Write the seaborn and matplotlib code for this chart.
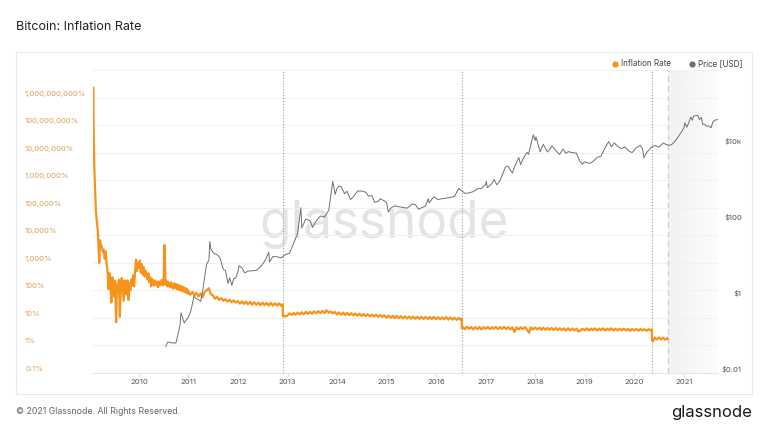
import numpy as np
import pandas as pd
import matplotlib
matplotlib.use("Agg")
import matplotlib.pyplot as plt
import matplotlib.dates as mdates
import matplotlib.transforms as mtransforms
from matplotlib.lines import Line2D
from matplotlib.patches import Rectangle
import seaborn as sns

# ---------------- data ----------------
# Inflation rate (%), very early days (explicit dates)
infl_early_dates = ["2009-01-30", "2009-02-01", "2009-02-04", "2009-02-06", "2009-02-11",
                    "2009-02-19", "2009-02-26", "2009-03-05", "2009-03-15", "2009-03-20"]
infl_early_vals = [2.3e9, 1.0e8, 1.3e7, 3.6e6, 6.8e5, 6.5e4, 3.0e4, 1.3e4, 1000, 6600]

# weekly readings from 2009-03-27 to 2010-12-31
infl_weekly_start = "2009-03-27"
infl_weekly_vals = [4500, 3800, 2500, 3000, 1400, 2600, 1000, 500, 110, 420, 250, 36, 300, 180,
                    60, 220, 7, 160, 90, 240, 11, 190, 280, 110, 42, 230, 150, 70, 230, 45,
                    180, 100, 250, 150, 350, 140, 500, 1300, 500, 1000,
                    650, 1200, 450, 900, 380, 700, 320, 520, 350, 250, 420, 200, 300, 140,
                    260, 180, 150, 230, 160, 200, 130, 210, 150, 190, 240, 150, 200, 4400,
                    160, 220, 140, 200, 150, 130, 195, 140, 115, 180, 125, 170, 110, 160,
                    105, 150, 100, 140, 92, 130, 88, 120, 80, 110, 75]

# semi-monthly readings (1st & 15th)
infl_2011_start = "2011-01-01"
infl_2011_vals = [95, 70, 88, 64, 82, 60, 78, 56, 88, 100, 120, 72, 66, 50, 58, 45, 52, 42, 48, 39, 46, 37, 43, 36,
                  41, 33, 40, 32, 39, 31, 38, 30, 37, 30, 36, 29, 36, 29, 35, 28, 35, 28, 34, 28, 34, 27]
halving1_dates = ["2012-11-27", "2012-11-28"]
halving1_vals = [31, 11.5]

infl_2013_start = "2012-12-01"
infl_2013_vals = [12.8, 11.2,
                  12.2, 14.6, 12.8, 15.0, 13.0, 15.6, 13.4, 16.0, 13.6, 16.4, 14.0, 16.6,
                  14.2, 17.2, 14.6, 17.6, 14.8, 18.0, 15.0, 19.0, 15.2, 17.0, 14.6, 16.4,
                  13.2, 15.8, 13.0, 15.6, 12.8, 15.2, 12.6, 14.8, 12.4, 14.4, 12.0, 14.2,
                  11.8, 13.8, 11.6, 13.6, 11.4, 13.2, 11.2, 13.0, 11.0, 12.6, 10.8, 12.4,
                  10.2, 12.2, 10.0, 12.0, 9.8, 11.8, 9.7, 11.6, 9.6, 11.4, 9.5, 11.2,
                  9.4, 11.2, 9.3, 11.0, 9.2, 11.0, 9.1, 10.9, 9.1, 10.8, 9.0, 10.9,
                  8.9, 10.6, 8.8, 10.5, 8.9, 10.7, 8.7, 10.3, 8.6, 10.2, 8.5, 10.0, 8.6]
halving2_dates = ["2016-07-08", "2016-07-09"]
halving2_vals = [9.4, 4.2]

infl_2017_start = "2016-07-15"
infl_2017_vals = [4.7, 3.9, 4.8, 4.0, 4.7, 3.8, 4.6, 3.9, 4.7, 3.8, 4.6,
                  4.0, 4.7, 3.9, 4.6, 4.0, 4.7, 3.9, 4.6, 4.0, 4.7, 3.9, 4.6,
                  3.8, 4.5, 3.1, 4.5, 3.8, 4.6, 3.9, 4.6, 3.8, 2.9, 4.5, 3.8,
                  4.5, 3.8, 4.4, 3.7, 4.4, 3.7, 4.3, 3.7, 4.3, 3.6, 4.3, 3.6,
                  4.2, 3.6, 4.2, 3.5, 4.2, 3.5, 4.1, 3.5, 4.1, 3.2, 3.5, 4.0,
                  3.6, 4.2, 3.5, 4.1, 3.6, 4.2, 3.5, 4.1, 3.6, 4.2, 3.5, 4.1,
                  3.6, 4.2, 3.5, 4.1, 3.5, 4.1, 3.5, 4.1, 3.5, 4.0, 3.4, 4.0,
                  3.5, 4.0, 3.4, 4.0, 3.5, 3.9, 3.4, 3.9, 3.5]
halving3_dates = ["2020-05-10", "2020-05-11"]
halving3_vals = [3.9, 1.6]

infl_2020_start = "2020-05-15"
infl_2020_vals = [1.4, 1.9, 1.65, 1.95, 1.65, 1.9, 1.6, 1.85]
infl_last_dates = ["2020-09-05"]
infl_last_vals = [1.7]

# Price (USD)
price_dates = [
    "2010-07-18", "2010-08-01", "2010-08-15", "2010-09-01", "2010-09-15", "2010-10-01", "2010-10-15",
    "2010-11-01", "2010-11-07", "2010-11-20", "2010-12-01", "2010-12-15",
    "2011-01-01", "2011-01-15", "2011-02-01", "2011-02-10", "2011-03-01", "2011-03-15", "2011-04-01",
    "2011-04-15", "2011-05-01", "2011-05-15", "2011-06-01", "2011-06-08", "2011-06-15", "2011-07-01",
    "2011-07-15", "2011-08-01", "2011-08-20", "2011-09-01", "2011-09-15", "2011-10-01", "2011-10-20",
    "2011-11-01", "2011-11-18", "2011-12-01", "2011-12-15",
    "2012-01-01", "2012-01-10", "2012-02-01", "2012-02-20", "2012-03-15", "2012-04-15", "2012-05-15",
    "2012-06-15", "2012-07-15", "2012-08-16", "2012-08-20", "2012-09-15", "2012-10-15", "2012-11-15",
    "2012-12-15",
    "2013-01-15", "2013-02-15", "2013-03-15", "2013-04-09", "2013-04-16", "2013-05-15", "2013-06-15",
    "2013-07-05", "2013-08-01", "2013-09-01", "2013-10-01", "2013-11-01", "2013-11-30", "2013-12-18",
    "2013-12-31",
    "2014-01-15", "2014-02-01", "2014-02-25", "2014-03-15", "2014-04-10", "2014-05-01", "2014-06-01",
    "2014-07-01", "2014-08-01", "2014-08-20", "2014-09-15", "2014-10-05", "2014-11-01", "2014-11-15",
    "2014-12-15",
    "2015-01-01", "2015-01-14", "2015-02-01", "2015-03-01", "2015-04-01", "2015-05-01", "2015-06-01",
    "2015-07-10", "2015-08-01", "2015-08-25", "2015-09-15", "2015-10-15", "2015-11-04", "2015-11-11",
    "2015-12-15",
    "2016-01-15", "2016-02-15", "2016-03-15", "2016-04-15", "2016-05-15", "2016-06-17", "2016-07-01",
    "2016-08-02", "2016-09-01", "2016-10-01", "2016-11-01", "2016-12-01", "2016-12-31",
    "2017-01-05", "2017-01-12", "2017-02-15", "2017-03-03", "2017-03-24", "2017-04-15", "2017-05-25",
    "2017-06-12", "2017-07-16", "2017-08-01", "2017-09-01", "2017-09-15", "2017-10-01", "2017-11-01",
    "2017-11-12", "2017-12-17", "2017-12-31",
    "2018-01-06", "2018-02-06", "2018-03-01", "2018-04-01", "2018-05-05", "2018-06-01", "2018-06-29",
    "2018-07-25", "2018-08-14", "2018-09-01", "2018-10-01", "2018-11-01", "2018-11-25", "2018-12-15",
    "2018-12-31",
    "2019-01-15", "2019-02-07", "2019-03-01", "2019-04-02", "2019-05-01", "2019-05-30", "2019-06-26",
    "2019-07-16", "2019-08-06", "2019-09-01", "2019-09-25", "2019-10-26", "2019-11-25", "2019-12-17",
    "2020-01-15", "2020-02-12", "2020-03-01", "2020-03-12", "2020-04-01", "2020-05-01", "2020-06-01",
    "2020-07-01", "2020-08-01", "2020-09-05", "2020-10-01", "2020-11-01", "2020-12-01", "2020-12-31",
    "2021-01-08", "2021-01-22", "2021-02-10", "2021-02-21", "2021-03-05", "2021-03-13", "2021-04-14",
    "2021-04-25", "2021-05-10", "2021-05-19", "2021-06-01", "2021-06-22", "2021-07-01", "2021-07-20",
    "2021-08-01", "2021-08-15", "2021-09-01", "2021-09-08"]
price_vals = [
    0.05, 0.065, 0.065, 0.062, 0.062, 0.062, 0.10, 0.19, 0.39, 0.28, 0.21, 0.25,
    0.30, 0.39, 0.70, 1.05, 0.90, 0.87, 0.78, 1.4, 3.5, 7.5, 9.5, 29.6, 19, 15.4, 13.9, 13.2, 11.3,
    8.2, 5.4, 5.1, 2.3, 3.25, 2.05, 3.1, 3.2,
    4.7, 6.8, 5.9, 4.4, 4.9, 5.0, 5.1, 6.3, 8.8, 15.4, 8.5, 11.9, 11.7, 11.0, 13.3,
    14.5, 27, 47, 230, 68, 116, 106, 70, 105, 140, 130, 200, 1150, 520, 740,
    870, 830, 540, 630, 380, 450, 640, 640, 590, 470, 480, 320, 340, 400, 350,
    315, 178, 225, 260, 245, 235, 225, 290, 280, 210, 230, 255, 400, 310, 450,
    380, 400, 415, 430, 455, 750, 675, 550, 570, 615, 730, 750, 960,
    1150, 780, 1000, 1280, 930, 1180, 2700, 2950, 1900, 2750, 4900, 3200, 4350, 6700, 5900, 19400, 13800,
    17100, 6950, 10900, 6850, 9800, 7500, 5900, 8200, 6300, 7000, 6600, 6350, 3900, 3250, 3750,
    3600, 3400, 3820, 4900, 5350, 8700, 12900, 9400, 11900, 9600, 8400, 9250, 7050, 6650,
    8800, 10300, 8550, 4900, 6650, 8800, 10200, 9250, 11800, 10300, 10600, 13800, 19700, 29000,
    40600, 30800, 44800, 57500, 47000, 61000, 63500, 49000, 56000, 37000, 36700, 32500, 33500, 29800,
    41500, 47000, 48800, 49000]

halvings = ["2012-11-28", "2016-07-09", "2020-05-11"]
paywall_start = "2020-09-05"
x_start, x_end = "2009-01-30", "2021-09-09"

left_ticks = [0.1, 1, 10, 100, 1e3, 1e4, 1e5, 1e6, 1e7, 1e8, 1e9]
left_labels = ["0.1%", "1%", "10%", "100%", "1,000%", "10,000%", "100,000%", "1,000,000%",
               "10,000,000%", "100,000,000%", "1,000,000,000%"]
right_ticks = [0.01, 1, 100, 1e4]
right_labels = ["$0.01", "$1", "$100", "$10k"]

# ---------------- assemble ----------------
d = list(pd.to_datetime(infl_early_dates))
v = list(infl_early_vals)
d += list(pd.date_range(infl_weekly_start, periods=len(infl_weekly_vals), freq="7D"))
v += infl_weekly_vals
d += list(pd.date_range(infl_2011_start, periods=len(infl_2011_vals), freq="SMS"))
v += infl_2011_vals
d += list(pd.to_datetime(halving1_dates)); v += halving1_vals
d += list(pd.date_range(infl_2013_start, periods=len(infl_2013_vals), freq="SMS"))
v += infl_2013_vals
d += list(pd.to_datetime(halving2_dates)); v += halving2_vals
d += list(pd.date_range(infl_2017_start, periods=len(infl_2017_vals), freq="SMS"))
v += infl_2017_vals
d += list(pd.to_datetime(halving3_dates)); v += halving3_vals
d += list(pd.date_range(infl_2020_start, periods=len(infl_2020_vals), freq="SMS"))
v += infl_2020_vals
d += list(pd.to_datetime(infl_last_dates)); v += infl_last_vals
infl = pd.DataFrame({"date": d, "rate": v}).sort_values("date")
price = pd.DataFrame({"date": pd.to_datetime(price_dates), "price": price_vals})

# ---------------- plot ----------------
sns.set_theme(style="white")
plt.rcParams["font.family"] = ["Inter", "DejaVu Sans"]

W, H = 768, 432
fig = plt.figure(figsize=(W / 100, H / 100), dpi=100)
fig.patch.set_facecolor("white")
L, R, T, B = 93.3, 718, 70, 373
ax = fig.add_axes([L / W, 1 - B / H, (R - L) / W, (B - T) / H])

# panel frame
fig.patches.append(Rectangle((16 / W, 1 - 394 / H), (752 - 16) / W, (394 - 52) / H,
                             transform=fig.transFigure, fill=False, edgecolor="#e9e9e9", lw=0.8))

xmin, xmax = pd.Timestamp(x_start), pd.Timestamp(x_end)
ps = pd.Timestamp(paywall_start)

# shaded paywall region
grad = np.linspace(0.945, 0.99, 64).reshape(1, -1)
ax.imshow(grad, cmap="gray", vmin=0, vmax=1, aspect="auto",
          extent=[mdates.date2num(ps), mdates.date2num(xmax), 0, 1],
          transform=ax.get_xaxis_transform(), zorder=0)
ax.axvline(ps, color="#d2d2d2", lw=1.0, ls=(0, (4, 3)), zorder=1)
for h in halvings:
    ax.axvline(pd.Timestamp(h), color="#a0a0a0", lw=0.8, ls=(0, (1, 1.6)), zorder=1)

sns.lineplot(data=infl, x="date", y="rate", ax=ax, color="#f7931a", lw=1.6,
             estimator=None, zorder=3)
ax.set_yscale("log")
ax.set_ylim(0.1, 1e10)
ax.set_xlim(xmin, xmax)
ax.set_yticks(left_ticks + [1e10])
ax.yaxis.set_minor_locator(matplotlib.ticker.NullLocator())
ax.set_yticklabels([])
ax.tick_params(axis="y", length=0)
ax.yaxis.grid(True, color="#f1f1f1", lw=0.8)
ax.set_axisbelow(True)
ax.xaxis.set_major_locator(mdates.YearLocator())
ax.xaxis.set_major_formatter(mdates.DateFormatter("%Y"))
ax.tick_params(axis="x", length=3, width=0.7, color="#e0e0e0", labelsize=5.6,
               labelcolor="#555555", pad=1.5, bottom=True)
for s in ["top", "left", "right"]:
    ax.spines[s].set_visible(False)
ax.spines["bottom"].set_color("#e6e6e6")
ax.spines["bottom"].set_linewidth(0.8)
ax.set_xlabel("")
ax.set_ylabel("")

ax.text((384 - L) / (R - L), (B - 238) / (B - T), "glassnode", transform=ax.transAxes,
        ha="center", va="baseline", fontsize=37, color="#e4e4e4", zorder=0.5)

ax2 = ax.twinx()
sns.lineplot(data=price, x="date", y="price", ax=ax2, color="#707070", lw=0.7, estimator=None)
ax2.set_yscale("log")
ax2.set_ylim(0.01, 1e6)
ax2.set_xlim(xmin, xmax)
ax2.set_yticks(right_ticks)
ax2.yaxis.set_minor_locator(matplotlib.ticker.NullLocator())
ax2.set_yticklabels([])
ax2.tick_params(axis="y", length=0)
for s in ["top", "left", "right", "bottom"]:
    ax2.spines[s].set_visible(False)
ax2.set_ylabel("")
ax2.grid(False)

# tick labels (shifted slightly above their gridlines, as in glassnode charts)
up = mtransforms.ScaledTranslation(0, 4 / 100, fig.dpi_scale_trans)
tl = mtransforms.blended_transform_factory(fig.transFigure, ax.transData) + up
for t, s in zip(left_ticks, left_labels):
    fig.text(25 / W, t, s, transform=tl, ha="left", va="center", fontsize=5.5, color="#df9e55")
tr = mtransforms.blended_transform_factory(fig.transFigure, ax2.transData) + up
for t, s in zip(right_ticks, right_labels):
    fig.text(742 / W, t, s, transform=tr, ha="right", va="center", fontsize=5.5, color="#555555")

# title, legend, footer
fig.text(16 / W, 1 - 27 / H, "Bitcoin: Inflation Rate", ha="left", va="center",
         fontsize=9, color="#222222")
handles = [Line2D([0], [0], marker="o", color="none", markerfacecolor="#f7931a",
                  markeredgecolor="none", markersize=4.5),
           Line2D([0], [0], marker="o", color="none", markerfacecolor="#707070",
                  markeredgecolor="none", markersize=4.5)]
fig.legend(handles, ["Inflation Rate", "Price [USD]"], loc="center right",
           bbox_to_anchor=(742 / W, 1 - 64 / H), ncol=2, frameon=False, fontsize=5.8,
           handletextpad=0.1, columnspacing=2.0, handlelength=1.2, borderpad=0,
           borderaxespad=0, labelcolor="#444444")
fig.text(16 / W, 1 - 412 / H, "\u00a9 2021 Glassnode. All Rights Reserved.", ha="left",
         va="center", fontsize=6.3, color="#666666")
fig.text(752 / W, 1 - 412 / H, "glassnode", ha="right", va="center", fontsize=12,
         color="#1a1a1a")

fig.savefig("out.png", dpi=100, facecolor="white")
